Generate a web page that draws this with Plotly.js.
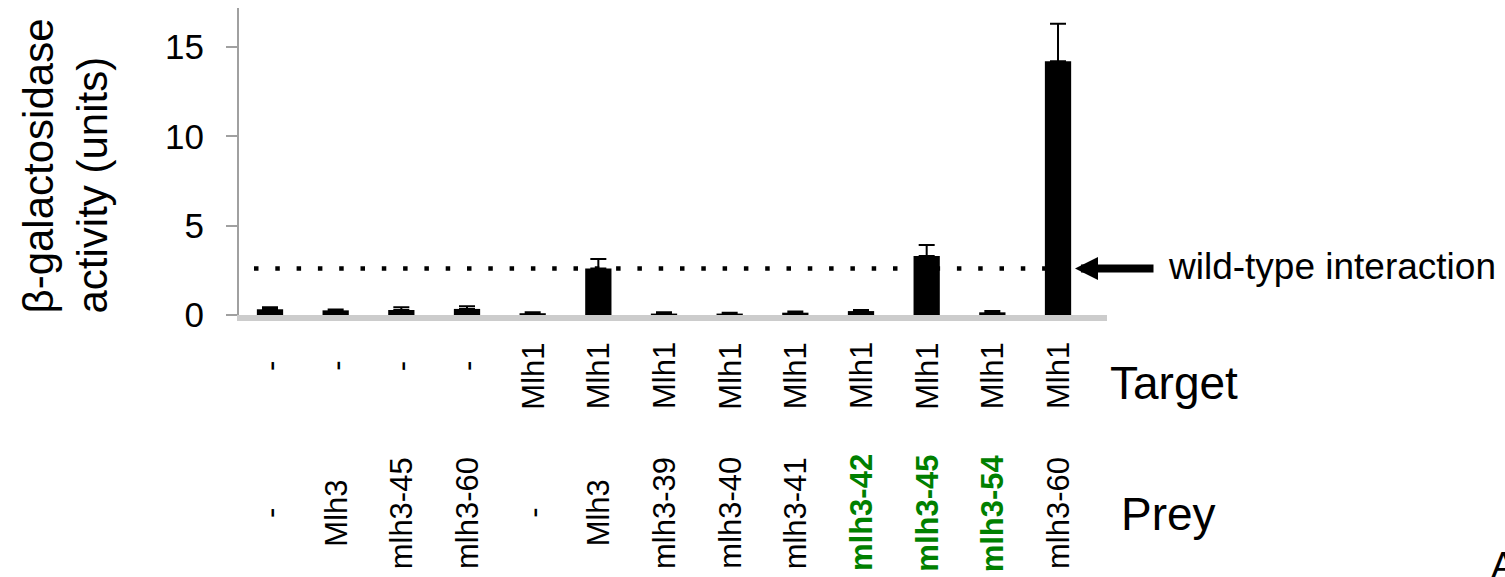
<!DOCTYPE html>
<html>
<head>
<meta charset="utf-8">
<script src="https://cdn.plot.ly/plotly-3.0.1.min.js"></script>
<style>
  html, body { margin: 0; padding: 0; background: #ffffff; }
  #chart { width: 1505px; height: 577px; }
</style>
</head>
<body>
<div id="chart"></div>
<script>
// ---------------- data ----------------
const targets = ['-', '-', '-', '-', 'Mlh1', 'Mlh1', 'Mlh1', 'Mlh1', 'Mlh1', 'Mlh1', 'Mlh1', 'Mlh1', 'Mlh1'];
const preys = ['-', 'Mlh3', 'mlh3-45', 'mlh3-60', '-', 'Mlh3', 'mlh3-39', 'mlh3-40', 'mlh3-41', 'mlh3-42', 'mlh3-45', 'mlh3-54', 'mlh3-60'];
const activity = [0.32, 0.26, 0.28, 0.34, 0.10, 2.60, 0.08, 0.08, 0.13, 0.22, 3.30, 0.15, 14.20];
const errorUp = [0.11, 0.05, 0.15, 0.15, 0.05, 0.53, 0.08, 0.05, 0.06, 0.06, 0.62, 0.07, 2.10];
const yTicks = [0, 5, 10, 15];
const wildTypeLevel = 2.6;
const wildTypeLabel = 'wild-type interaction';
const rowTitles = ['Target', 'Prey'];
const yTitleLines = ['β-galactosidase', 'activity (units)'];
const cornerLabel = 'A';

// ---------------- layout helpers ----------------
const W = 1505, H = 577;
const M = { l: 239, r: 398, t: 8, b: 262 };
const plotW = W - M.l - M.r, plotH = H - M.t - M.b;
const px2paperX = px => (px - M.l) / plotW;
const px2paperY = py => (H - M.b - py) / plotH;
const FONT = 'Liberation Sans, Arial, Helvetica, sans-serif';
const greenCols = [9, 10, 11];

const categories = targets.map((t, i) => t + ' / ' + preys[i]);

const trace = {
  type: 'bar',
  x: categories,
  y: activity,
  marker: { color: '#000000', line: { width: 0 } },
  error_y: {
    type: 'data', symmetric: false,
    array: errorUp, arrayminus: errorUp.map(() => 0),
    color: '#000000', thickness: 2, width: 8
  },
  hoverinfo: 'none'
};

const annotations = [];

// category labels: target row and prey row
targets.forEach((t, i) => {
  annotations.push({
    xref: 'x', yref: 'paper', x: i,
    y: px2paperY(t === '-' ? 366 : 376),
    text: t, textangle: -90, showarrow: false,
    xanchor: 'center', yanchor: 'middle',
    font: { family: FONT, size: 31, color: '#000000' }
  });
});
preys.forEach((p, i) => {
  const hi = greenCols.includes(i);
  annotations.push({
    xref: 'x', yref: 'paper', x: i,
    y: px2paperY(513),
    text: hi ? '<b>' + p + '</b>' : p, textangle: -90, showarrow: false,
    xanchor: 'center', yanchor: 'middle',
    font: { family: FONT, size: 31, color: hi ? '#008000' : '#000000' }
  });
});

// row titles
annotations.push({
  xref: 'paper', yref: 'paper', x: px2paperX(1108), y: px2paperY(383),
  text: rowTitles[0], showarrow: false, xanchor: 'left', yanchor: 'middle',
  font: { family: FONT, size: 46, color: '#000000' }
});
annotations.push({
  xref: 'paper', yref: 'paper', x: px2paperX(1119), y: px2paperY(514),
  text: rowTitles[1], showarrow: false, xanchor: 'left', yanchor: 'middle',
  font: { family: FONT, size: 46, color: '#000000' }
});

// wild-type arrow + label
annotations.push({
  xref: 'paper', yref: 'y', x: px2paperX(1075), y: wildTypeLevel,
  text: '', showarrow: true, ax: 80, ay: 0,
  arrowhead: 2, arrowsize: 0.575, arrowwidth: 8, arrowcolor: '#000000'
});
annotations.push({
  xref: 'paper', yref: 'paper', x: px2paperX(1166), y: px2paperY(266),
  text: wildTypeLabel, showarrow: false, xanchor: 'left', yanchor: 'middle',
  font: { family: FONT, size: 37, color: '#000000' }
});

// y-axis title (two lines, rotated, start-aligned)
annotations.push({
  xref: 'paper', yref: 'paper', x: px2paperX(12), y: px2paperY(316),
  text: yTitleLines.join('<br>'), textangle: -90, align: 'left',
  showarrow: false, xanchor: 'left', yanchor: 'bottom',
  font: { family: FONT, size: 42, color: '#000000' }
});

// corner label (cut by the right edge, as in the source)
annotations.push({
  xref: 'paper', yref: 'paper', x: px2paperX(1489), y: px2paperY(543),
  text: cornerLabel, showarrow: false, xanchor: 'left', yanchor: 'top',
  font: { family: FONT, size: 37, color: '#000000' }
});

const layout = {
  width: W, height: H,
  margin: M,
  paper_bgcolor: '#ffffff', plot_bgcolor: '#ffffff',
  showlegend: false,
  bargap: 0.6,
  font: { family: FONT, color: '#000000' },
  xaxis: {
    type: 'category',
    range: [-0.472, 12.746],
    showticklabels: false, ticks: '',
    showgrid: false, zeroline: false,
    showline: true, linecolor: '#cccccc', linewidth: 6
  },
  yaxis: {
    range: [0, 17.18],
    tickvals: yTicks, ticktext: yTicks.map(String),
    ticks: 'outside', ticklen: 11, tickwidth: 2, tickcolor: '#a0a0a0',
    ticklabelstandoff: 15,
    tickfont: { family: FONT, size: 35, color: '#000000' },
    showgrid: false, zeroline: false,
    showline: true, linecolor: '#a0a0a0', linewidth: 2
  },
  shapes: [{
    type: 'line', layer: 'below',
    xref: 'paper', yref: 'y',
    x0: 0, x1: px2paperX(1058),
    y0: wildTypeLevel, y1: wildTypeLevel,
    line: { color: '#000000', width: 4.5, dash: '0px,15px,4.5px,1.8px' }
  }],
  annotations: annotations
};

Plotly.newPlot('chart', [trace], layout, { staticPlot: true, displayModeBar: false });
</script>
</body>
</html>
